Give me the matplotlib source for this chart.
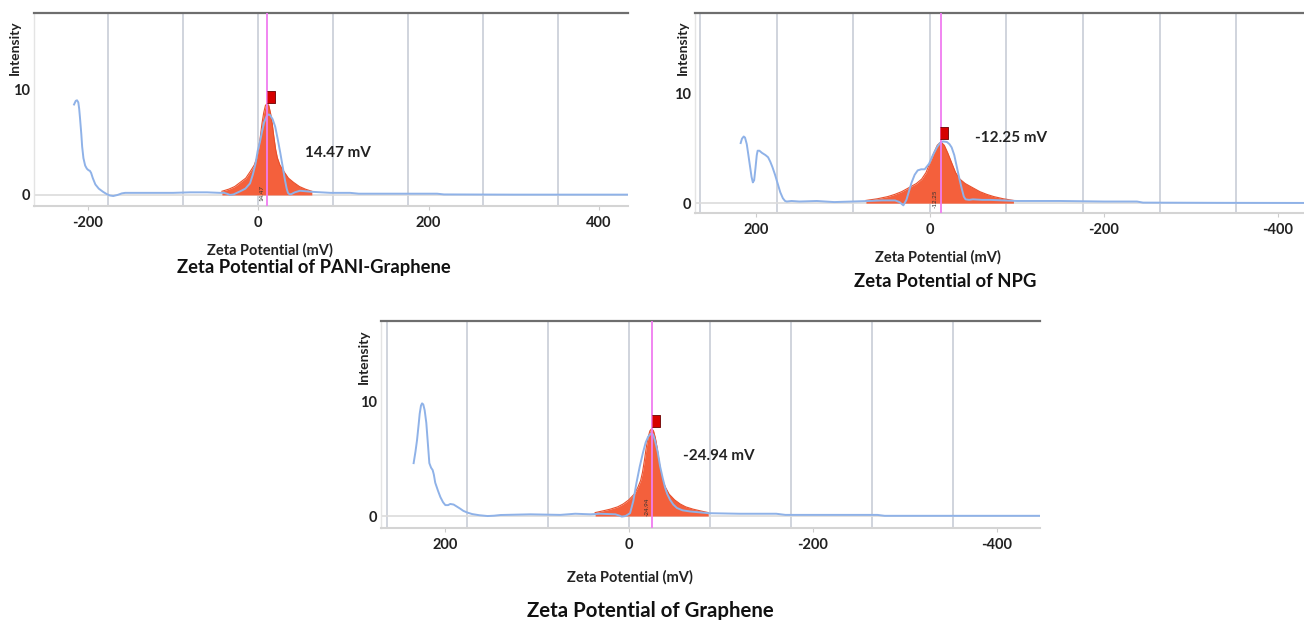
import matplotlib
matplotlib.use("Agg")
import matplotlib.pyplot as plt

plt.rcParams['font.family'] = ['Lato', 'DejaVu Sans']

# PANI-Graphene (x axis runs normally)
pani_x = [-216, -214, -212.5, -211, -210, -209, -207.5, -206.5, -205, -203, -201, -199, -197.5,
          -196, -194, -191, -187, -182, -178, -174, -170, -165, -160, -156,
          -130, -100, -80, -60, -45, -40, -36, -33, -29, -25, -21, -15, -9.5, -6, -3, -0.5, 2,
          4.5, 7, 10, 12, 14, 17, 20, 23, 26, 29, 31.5, 33.5, 35, 37, 39.5, 43, 49, 56, 63,
          85, 108, 118, 210, 218, 300, 434]
pani_y = [8.6, 8.95, 9.0, 8.8, 8.2, 7.3, 5.8, 4.6, 3.5, 2.8, 2.5, 2.35, 2.3,
          2.1, 1.6, 1.0, 0.6, 0.3, 0.1, -0.05, -0.1, 0.0, 0.15, 0.2,
          0.2, 0.2, 0.25, 0.25, 0.2, 0.2, 0.1, 0.0, 0.05, 0.2, 0.35, 0.6, 1.1, 2.0, 3.0, 4.2, 5.0,
          6.0, 6.9, 7.5, 7.65, 7.6, 7.2, 6.5, 5.3, 4.0, 2.6, 1.4, 0.6, 0.2, 0.05, 0.1, 0.25, 0.4,
          0.35, 0.3, 0.2, 0.2, 0.12, 0.12, 0.05, 0.03, 0.03]
pani_fit_x = [-42.5, -34.5, -27.5, -21, -14.5, -9.5, -4.5, -1.5, 0.5, 2.5, 4.5, 6.5, 8.5, 10.5,
              12.5, 14.5, 16.5, 18.5, 20.5, 22.5, 25.5, 30.5, 35.5, 41.5, 48.5, 55.5, 63]
pani_fit_y = [0.35, 0.55, 0.8, 1.2, 1.6, 2.2, 2.85, 3.55, 4.35, 5.5, 6.8, 7.8, 8.5, 8.7,
              8.5, 7.8, 6.8, 5.5, 4.35, 3.55, 2.85, 2.2, 1.6, 1.2, 0.8, 0.55, 0.35]

# NPG (x axis reversed)
npg_x = [217.5, 216, 214, 212.5, 210.5, 209, 207, 205, 203.5, 202, 200.5, 199, 198, 196, 193,
         189, 186, 183.5, 181, 178, 175, 172, 169, 166.5, 164.5, 159, 150, 130, 110,
         90, 70, 55, 40, 35, 30.5, 27, 24, 21, 17.5, 14, 10, 6, 1, -3.5, -8, -11.5, -15, -19.5,
         -22.5, -25, -28, -31, -34, -37, -39, -41, -45, -49.5, -60, -69,
         -100, -150, -200, -238, -245, -330, -430]
npg_y = [5.5, 5.9, 6.1, 6.0, 5.4, 4.6, 3.5, 2.4, 1.9, 2.1, 3.2, 4.4, 4.8, 4.8, 4.6,
         4.4, 4.2, 3.8, 3.3, 2.6, 1.8, 1.0, 0.45, 0.2, 0.15, 0.2, 0.15, 0.2, 0.1,
         0.15, 0.2, 0.25, 0.25, 0.1, -0.2, 0.3, 1.1, 1.9, 2.6, 3.0, 3.1, 3.1, 3.6, 4.4, 5.1, 5.5,
         5.65, 5.6, 5.4, 5.1, 4.4, 3.3, 2.2, 1.2, 0.6, 0.35, 0.3, 0.35, 0.3, 0.3,
         0.2, 0.2, 0.15, 0.15, 0.05, 0.03, 0.02]
npg_fit_x = [73.5, 60.5, 48.5, 40.5, 32.5, 24.5, 15.5, 9.5, 4.5, -0.5, -4.5, -8.5, -12.5, -16.5,
             -20.5, -24.5, -29.5, -34.5, -40.5, -49.5, -57.5, -65.5, -73.5, -84.5, -96]
npg_fit_y = [0.25, 0.4, 0.6, 0.8, 1.05, 1.4, 1.8, 2.2, 2.8, 3.8, 4.6, 5.3, 5.6, 5.3,
             4.6, 3.8, 2.8, 2.2, 1.8, 1.4, 1.05, 0.8, 0.6, 0.4, 0.25]

# Graphene (x axis reversed)
gr_x = [234.5, 232.5, 230.8, 229, 227.9, 226.5, 225.3, 224, 222.5, 220.7, 219, 217.4, 215.5,
        213.8, 212.5, 211, 208, 205.4, 202.5, 200, 197, 194.6, 191, 187, 184, 180.4, 176, 170.7,
        163, 154, 147, 140, 107.6, 75, 58.7, 42.4, 31.5, 15, 11, 8, 4, -1, -4.5, -8, -11.5, -15,
        -18, -20.7, -24, -26, -28, -31, -33.7, -36.5, -39, -41.5, -44.6, -48, -52, -58, -66, -86,
        -120, -160, -170, -270, -278, -447]
gr_y = [4.6, 5.6, 6.6, 8.0, 8.9, 9.6, 9.8, 9.7, 9.2, 8.1, 6.3, 4.6, 4.2,
        4.0, 3.6, 2.9, 2.2, 1.65, 1.2, 0.95, 0.95, 1.05, 1.0, 0.8, 0.65, 0.45, 0.3, 0.17,
        0.07, 0.0, 0.03, 0.09, 0.15, 0.1, 0.2, 0.15, 0.2, 0.15, 0.05, -0.05, 0.0, 0.25, 1.3, 2.9,
        4.3, 5.5, 6.4, 6.9, 7.2, 7.1, 6.6, 5.6, 4.3, 3.3, 2.5, 1.9, 1.4, 1.0, 0.7, 0.5, 0.4, 0.25,
        0.2, 0.2, 0.1, 0.1, 0.02, 0.02]
gr_fit_x = [37, 28.5, 20.5, 12.5, 6.5, 0.5, -5.5, -9.5, -12.5, -14.5, -16.5, -18.5, -20.5, -22.5,
            -24.5, -26.5, -28.5, -30.5, -32.5, -34.5, -36.5, -39.5, -43.5, -49.5, -55.5, -61.5,
            -69.5, -77.5, -86]
gr_fit_y = [0.3, 0.45, 0.6, 0.8, 1.05, 1.4, 1.9, 2.5, 3.1, 3.8, 4.8, 5.9, 6.8, 7.4,
            7.6, 7.4, 6.8, 5.9, 4.8, 3.8, 3.1, 2.5, 1.9, 1.4, 1.05, 0.8, 0.6, 0.45, 0.3]

peak_values = ['14.47', '-12.25', '-24.94']
peak_pos = [10.5, -12.25, -24.5]
marker_pos = [(14.9, 9.36), (-16.5, 6.4), (-29.3, 8.3)]
label_pos = [(55, 4.0), (-52, 6.0), (-58.7, 5.2)]
small_label_pos = [(4.7, 0.2), (-5.8, 0.4), (-19.2, 0.8)]
titles = ['Zeta Potential of PANI-Graphene', 'Zeta Potential of NPG', 'Zeta Potential of Graphene']
grid_vals = [-352, -264, -176, -88, 0, 88, 176, 264, 352]

W, H = 1304, 620
fig = plt.figure(figsize=(W / 100, H / 100), dpi=100)


def px_axes(left, top, right, bottom):
    return fig.add_axes([left / W, 1 - bottom / H, (right - left) / W, (bottom - top) / H])


def draw_panel(ax, x, y, fx, fy, xlim, ylim, ticks, tick_labels, i):
    ax.set_xlim(*xlim)
    ax.set_ylim(*ylim)
    for g in grid_vals:
        if min(xlim) < g < max(xlim):
            ax.axvline(g, color='#cdd1da', lw=1.3, zorder=1)
    ax.axhline(0, color='#dcdcdc', lw=1.2, zorder=1)
    ax.fill_between(fx, fy, 0, color='#f4603c', lw=0, zorder=2)
    ax.plot(fx, fy, color='#e8502c', lw=0.8, zorder=2)
    ax.plot(x, y, color='#8fb2e8', lw=1.4, zorder=3, solid_joinstyle='round')
    ax.axvline(peak_pos[i], color='#f07cf0', lw=1.3, zorder=4)
    ax.plot(*marker_pos[i], marker=[(-0.35, -0.5), (0.35, -0.5), (0.35, 0.5), (-0.35, 0.5)],
            ms=9, mfc='#d60000', mec='#6a0000', mew=0.6, zorder=5)
    ax.text(*label_pos[i], peak_values[i] + ' mV', fontsize=11, fontweight='bold',
            color='#222222', va='center', ha='left', zorder=6)
    ax.text(*small_label_pos[i], peak_values[i], fontsize=4.5, rotation=90,
            color='#333333', va='center', ha='center', zorder=6)
    ax.set_xticks(ticks)
    ax.set_xticklabels(tick_labels)
    ax.set_yticks([0, 10])
    ax.set_yticklabels(['0', '10'])
    ax.tick_params(axis='x', length=3, color='#cccccc', pad=4, labelsize=10.5)
    ax.tick_params(axis='y', length=0, pad=3, labelsize=10.5)
    for lab in ax.get_xticklabels() + ax.get_yticklabels():
        lab.set_fontweight('bold')
        lab.set_color('#222222')
    ax.spines['top'].set_color('#6e6e6e')
    ax.spines['top'].set_linewidth(1.6)
    ax.spines['bottom'].set_color('#d4d4d4')
    ax.spines['bottom'].set_linewidth(1.5)
    ax.spines['left'].set_color('#e4e4e4')
    ax.spines['left'].set_linewidth(1.0)
    ax.spines['right'].set_visible(False)
    ax.set_facecolor('white')


ax1 = px_axes(34, 13, 628, 206)
draw_panel(ax1, pani_x, pani_y, pani_fit_x, pani_fit_y, (-263, 434), (-1.05, 17.3),
           [-200, 0, 200, 400], ['-200', '0', '200', '400'], 0)

ax2 = px_axes(695, 13, 1304, 213)
draw_panel(ax2, npg_x, npg_y, npg_fit_x, npg_fit_y, (270, -430), (-0.9, 17.4),
           [200, 0, -200, -400], ['200', '0', '-200', '-400'], 1)

ax3 = px_axes(381, 321, 1040, 528)
draw_panel(ax3, gr_x, gr_y, gr_fit_x, gr_fit_y, (270, -447), (-1.04, 16.96),
           [200, 0, -200, -400], ['200', '0', '-200', '-400'], 2)

# axis titles and captions
for (xi, yi), (xl, yl), (tx, ty, ts), t in zip([(15, 48), (683, 48), (364, 357)],
                                               [(270, 250), (938, 257), (630, 577)],
                                               [(314, 273, 13.2), (945, 287, 13.3), (650, 617, 14.7)],
                                               titles):
    fig.text(xi / W, 1 - yi / H, 'Intensity', rotation=90, fontsize=10, fontweight='bold',
             ha='center', va='center', color='#222222')
    fig.text(xl / W, 1 - yl / H, 'Zeta Potential (mV)', fontsize=10.5, fontweight='bold',
             ha='center', va='center', color='#222222')
    fig.text(tx / W, 1 - ty / H, t, fontsize=ts, fontweight='bold',
             ha='center', va='baseline', color='#111111')

fig.savefig('out.png', dpi=100, facecolor='white')
